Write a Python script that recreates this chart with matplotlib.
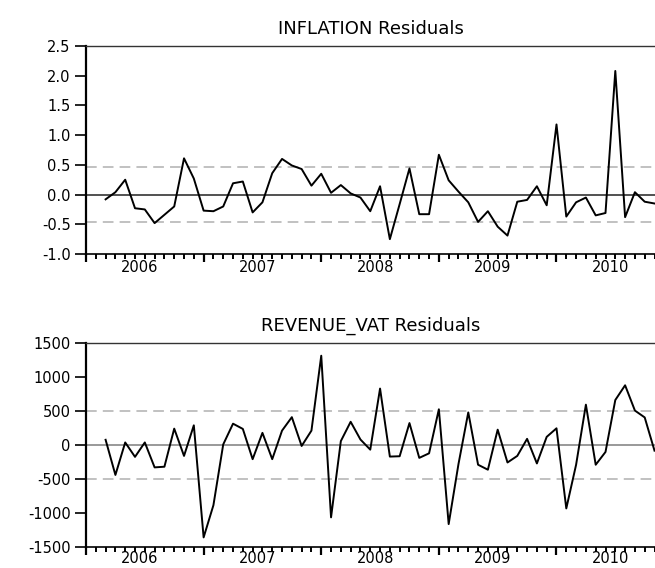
import numpy as np
import pandas as pd
import matplotlib
matplotlib.use("Agg")
import matplotlib.pyplot as plt

# monthly residuals, 2006M03 .. 2010M11
inflation_resid = [
    -0.08, 0.04, 0.25, -0.23, -0.25, -0.48, -0.34, -0.20, 0.61, 0.27,
    -0.27, -0.28, -0.20, 0.19, 0.22, -0.30, -0.13, 0.36, 0.60, 0.49,
    0.43, 0.15, 0.35, 0.03, 0.16, 0.02, -0.05, -0.28, 0.14, -0.75,
    -0.16, 0.44, -0.33, -0.33, 0.67, 0.24, 0.05, -0.13, -0.46, -0.28,
    -0.54, -0.69, -0.12, -0.09, 0.14, -0.18, 1.18, -0.37, -0.13, -0.05,
    -0.35, -0.31, 2.08, -0.38, 0.04, -0.12, -0.15,
]
revenue_vat_resid = [
    77, -440, 38, -174, 38, -329, -319, 241, -160, 290,
    -1359, -885, 9, 314, 237, -208, 179, -208, 212, 410,
    -14, 212, 1314, -1064, 58, 342, 81, -68, 831, -170,
    -165, 323, -189, -122, 526, -1163, -280, 480, -290, -363,
    226, -257, -160, 91, -271, 120, 246, -933, -290, 594,
    -290, -102, 662, 879, 507, 406, -83,
]
inflation_se = 0.465
revenue_vat_se = 502
years = [2006, 2007, 2008, 2009, 2010]

periods = pd.period_range("2006-03", periods=len(inflation_resid), freq="M")
x = np.array([(p.year - 2006) * 12 + p.month - 1 for p in periods])

plt.rcParams["font.family"] = ["DejaVu Sans"]
fig = plt.figure(figsize=(6.55, 5.68), dpi=100)

panels = [
    ("INFLATION Residuals", inflation_resid, inflation_se, (-1.0, 2.5), 0.5, "%.1f",
     [0.1313, 0.5528, 0.8687, 0.3662], "#333333", -9.5),
    ("REVENUE_VAT Residuals", revenue_vat_resid, revenue_vat_se, (-1500, 1500), 500, "%d",
     [0.1313, 0.0370, 0.8687, 0.3590], "#888888", -8.0),
]

for title, vals, se, ylim, step, fmt, rect, zero_col, lab_off in panels:
    ax = fig.add_axes(rect)
    ax.axhline(0, color=zero_col, lw=1.2, zorder=1)
    ax.axhline(se, color="#b0b0b0", lw=1.1, ls=(0, (7, 4)), zorder=1)
    ax.axhline(-se, color="#b0b0b0", lw=1.1, ls=(0, (7, 4)), zorder=1)
    ax.plot(x, vals, color="black", lw=1.4, zorder=3)

    ax.set_xlim(0, 58.05)
    ax.set_ylim(*ylim)
    ax.set_yticks(np.arange(ylim[0], ylim[1] + step / 2, step))
    ax.yaxis.set_major_formatter(matplotlib.ticker.FormatStrFormatter(fmt))
    ax.set_xticks([(y - 2006) * 12 for y in years])
    ax.set_xticks(np.arange(0, 59), minor=True)
    ax.set_xticklabels([])
    ax.tick_params(axis="y", direction="out", length=8, width=1.2, labelsize=10.5, pad=3)
    ax.tick_params(axis="x", which="major", direction="out", length=6, width=1.6)
    ax.tick_params(axis="x", which="minor", direction="out", length=3.5, width=1.4)

    for yr in years:
        ax.annotate(str(yr), xy=((yr - 2006) * 12 + 5.5, 0), xycoords=("data", "axes fraction"),
                    xytext=(0, lab_off), textcoords="offset points",
                    ha="center", va="center", fontsize=10.5)

    ax.spines["right"].set_visible(False)
    ax.spines["left"].set_linewidth(1.6)
    ax.spines["bottom"].set_linewidth(1.2)
    ax.spines["top"].set_linewidth(1.0)
    ax.spines["top"].set_color("#333333")
    ax.set_title(title, fontsize=13, pad=9)

fig.savefig("out.png", dpi=100)
